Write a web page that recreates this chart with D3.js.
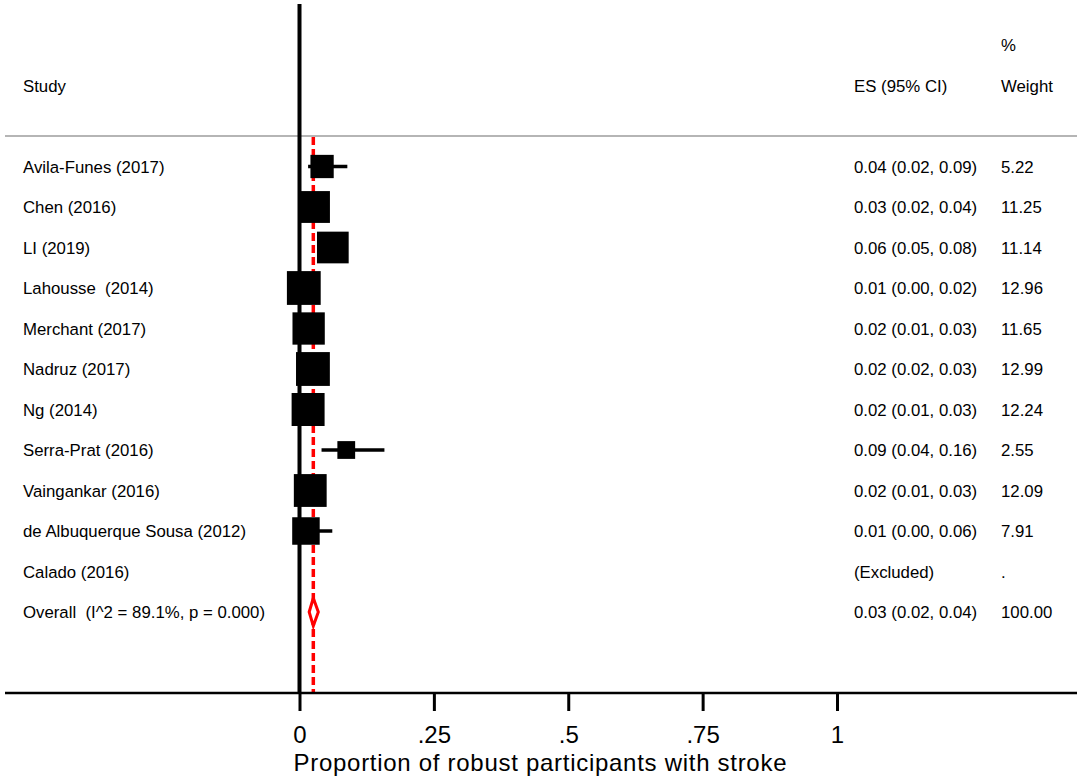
<!DOCTYPE html>
<html>
<head>
<meta charset="utf-8">
<script src="https://cdn.jsdelivr.net/npm/d3@7"></script>
<style>
  body { margin: 0; background: #fff; }
  svg { display: block; font-family: "Liberation Sans", Arial, sans-serif; }
  text { white-space: pre; }
</style>
</head>
<body>
<div id="chart"></div>
<script>
// study rows
var studies = ["Avila-Funes (2017)", "Chen (2016)", "LI (2019)", "Lahousse  (2014)", "Merchant (2017)",
  "Nadruz (2017)", "Ng (2014)", "Serra-Prat (2016)", "Vaingankar (2016)", "de Albuquerque Sousa (2012)", "Calado (2016)"];
var es = [0.042, 0.027, 0.062, 0.008, 0.017, 0.025, 0.016, 0.087, 0.020, 0.012, null];
var ciLow = [0.016, 0.02, 0.05, 0.00, 0.01, 0.02, 0.01, 0.041, 0.01, 0.00, null];
var ciHigh = [0.089, 0.04, 0.08, 0.02, 0.03, 0.03, 0.03, 0.158, 0.03, 0.061, null];
var esLabels = ["0.04 (0.02, 0.09)", "0.03 (0.02, 0.04)", "0.06 (0.05, 0.08)", "0.01 (0.00, 0.02)", "0.02 (0.01, 0.03)",
  "0.02 (0.02, 0.03)", "0.02 (0.01, 0.03)", "0.09 (0.04, 0.16)", "0.02 (0.01, 0.03)", "0.01 (0.00, 0.06)", "(Excluded)"];
var weights = [5.22, 11.25, 11.14, 12.96, 11.65, 12.99, 12.24, 2.55, 12.09, 7.91, null];

// pooled estimate
var overallLabel = "Overall  (I^2 = 89.1%, p = 0.000)";
var overallEs = [0.0257, 0.018, 0.035]; // es, low, high
var overallEsLabel = "0.03 (0.02, 0.04)";
var overallWeight = "100.00";

var xTicks = [0, 0.25, 0.5, 0.75, 1];
var xTickLabels = ["0", ".25", ".5", ".75", "1"];
var xTitle = "Proportion of robust participants with stroke";

var W = 1084, H = 781;
var axisY = 693;

var svg = d3.select("#chart").append("svg")
  .attr("width", W)
  .attr("height", H);

var x = d3.scaleLinear().domain([0, 1]).range([299.5, 837]);
var y = d3.scaleLinear().domain([0, studies.length]).range([166.5, 612]);
var side = d3.scaleSqrt().domain([0, 13]).range([0, 8 * Math.sqrt(13)]);

// header
var head = svg.append("g").style("font-size", "16.8px");
head.append("text").attr("x", 23).attr("y", 92).text("Study");
head.append("text").attr("x", 854).attr("y", 92).text("ES (95% CI)");
head.append("text").attr("x", 1001).attr("y", 51).text("%");
head.append("text").attr("x", 1001).attr("y", 92).text("Weight");

svg.append("line")
  .attr("x1", 5).attr("x2", 1077)
  .attr("y1", 136).attr("y2", 136)
  .style("stroke", "#b5b5b5").style("stroke-width", 2);

// null line
svg.append("line")
  .attr("x1", x(0)).attr("x2", x(0))
  .attr("y1", 4).attr("y2", axisY)
  .style("stroke", "#000").style("stroke-width", 4);

// overall dashed line
svg.append("line")
  .attr("x1", x(overallEs[0])).attr("x2", x(overallEs[0]))
  .attr("y1", 137).attr("y2", axisY - 1)
  .style("stroke", "#ff0000").style("stroke-width", 3.5)
  .style("stroke-dasharray", "8,4");

var idx = d3.range(studies.length);
var shown = idx.filter(function(i) { return es[i] != null; });

svg.selectAll("line.ci").data(shown).enter().append("line")
  .attr("class", "ci")
  .attr("x1", function(i) { return x(ciLow[i]); })
  .attr("x2", function(i) { return x(ciHigh[i]); })
  .attr("y1", function(i) { return y(i); })
  .attr("y2", function(i) { return y(i); })
  .style("stroke", "#000").style("stroke-width", 3.5);

svg.selectAll("rect.box").data(shown).enter().append("rect")
  .attr("class", "box")
  .attr("x", function(i) { return x(es[i]) - (side(weights[i]) + 5) / 2; })
  .attr("y", function(i) { return y(i) - (side(weights[i]) + 5) / 2; })
  .attr("width", function(i) { return side(weights[i]) + 5; })
  .attr("height", function(i) { return side(weights[i]) + 5; })
  .style("fill", "#000");

// diamond
var oy = y(studies.length);
svg.append("path")
  .attr("d", "M" + x(overallEs[1]) + "," + oy +
    "L" + x(overallEs[0]) + "," + (oy - 14) +
    "L" + x(overallEs[2]) + "," + oy +
    "L" + x(overallEs[0]) + "," + (oy + 14) + "Z")
  .style("fill", "#fff").style("stroke", "#ff0000").style("stroke-width", 3);

// row text
var rows = svg.append("g").style("font-size", "16.8px");
rows.selectAll("text.study").data(idx).enter().append("text")
  .attr("x", 23).attr("y", function(i) { return y(i) + 6; })
  .text(function(i) { return studies[i]; });
rows.selectAll("text.es").data(idx).enter().append("text")
  .attr("x", 854).attr("y", function(i) { return y(i) + 6; })
  .text(function(i) { return esLabels[i]; });
rows.selectAll("text.wt").data(idx).enter().append("text")
  .attr("x", 1001).attr("y", function(i) { return y(i) + 6; })
  .text(function(i) { return weights[i] == null ? "." : weights[i].toFixed(2); });
rows.append("text").attr("x", 23).attr("y", oy + 6).text(overallLabel);
rows.append("text").attr("x", 854).attr("y", oy + 6).text(overallEsLabel);
rows.append("text").attr("x", 1001).attr("y", oy + 6).text(overallWeight);

// x axis
var axis = svg.append("g")
  .attr("transform", "translate(0," + axisY + ")")
  .call(d3.axisBottom(x)
    .tickValues(xTicks)
    .tickFormat(function(d, i) { return xTickLabels[i]; })
    .tickSize(18)
    .tickPadding(15));
axis.select(".domain").remove();
axis.selectAll(".tick line").style("stroke", "#000").style("stroke-width", 3);
axis.selectAll(".tick text")
  .style("font-size", "24px")
  .style("font-family", "'Liberation Sans', Arial, sans-serif")
  .style("fill", "#000");

svg.append("line")
  .attr("x1", 5).attr("x2", 1077)
  .attr("y1", axisY).attr("y2", axisY)
  .style("stroke", "#000").style("stroke-width", 2.5);

svg.append("text")
  .attr("x", 540).attr("y", 771)
  .attr("text-anchor", "middle")
  .attr("textLength", 493)
  .attr("lengthAdjust", "spacing")
  .style("font-size", "24px")
  .text(xTitle);
</script>
</body>
</html>
